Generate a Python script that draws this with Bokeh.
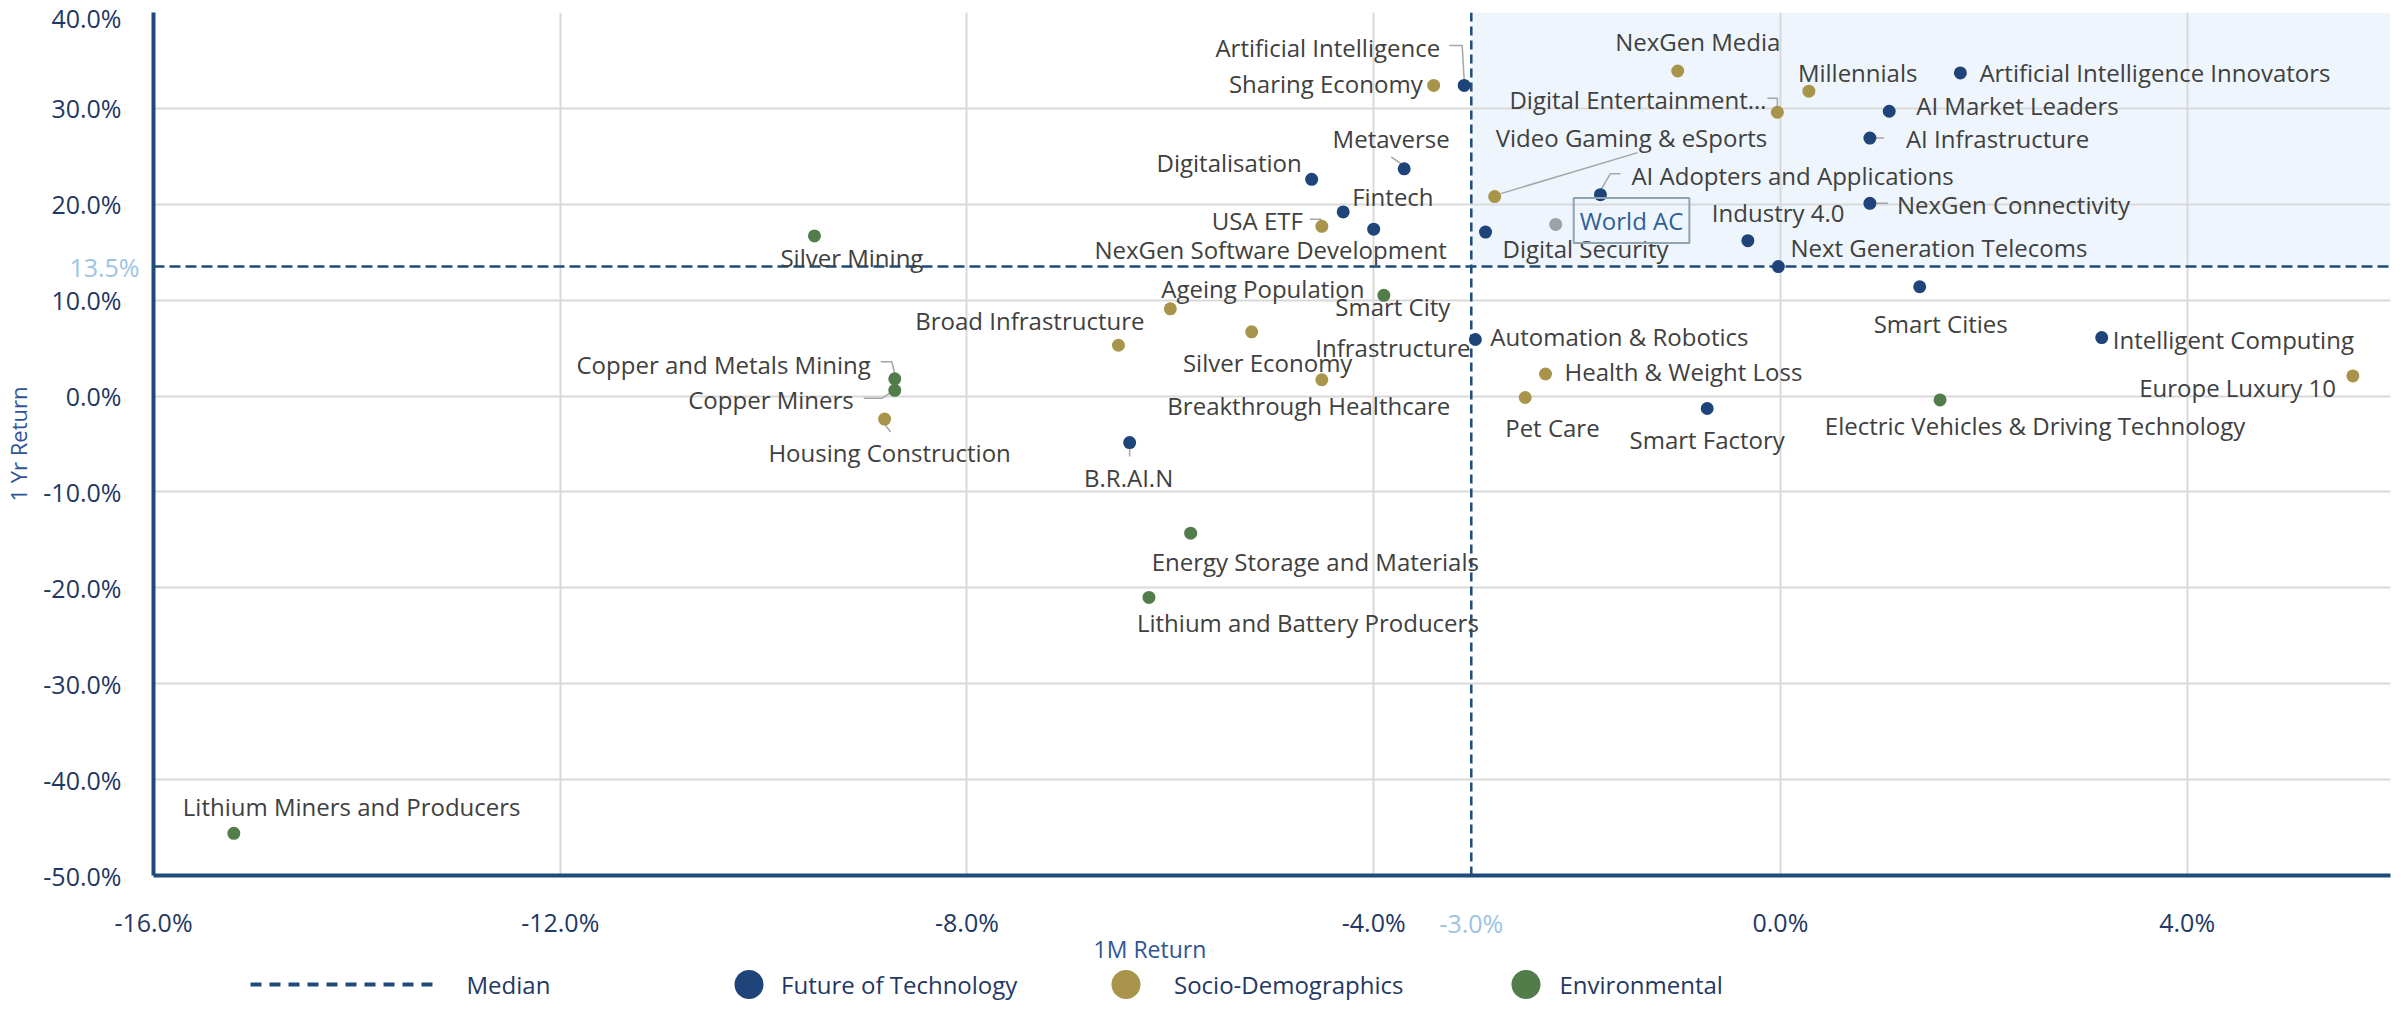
from bokeh.plotting import figure
from bokeh.models import (Range1d, FixedTicker, PrintfTickFormatter, BoxAnnotation,
                          Span, Label, ColumnDataSource, LinearAxis)
from bokeh.layouts import column
from bokeh.embed import file_html
from bokeh.resources import INLINE
from bokeh.core.properties import value

# ---------------- data ----------------
tech_names = ["Artificial Intelligence", "Artificial Intelligence Innovators", "AI Market Leaders",
              "AI Infrastructure", "Metaverse", "Digitalisation", "AI Adopters and Applications",
              "NexGen Connectivity", "Fintech", "NexGen Software Development", "Digital Security",
              "Industry 4.0", "Next Generation Telecoms", "Smart Cities", "Intelligent Computing",
              "Automation & Robotics", "Smart Factory", "B.R.AI.N"]
tech_1m = [-3.11, 1.77, 1.07, 0.88, -3.70, -4.61, -1.77, 0.88, -4.30, -4.00, -2.90,
           -0.32, -0.02, 1.37, 3.16, -3.00, -0.72, -6.40]
tech_1y = [32.4, 33.7, 29.7, 26.9, 23.7, 22.6, 21.0, 20.1, 19.2, 17.4, 17.1,
           16.2, 13.5, 11.4, 6.1, 5.9, -1.3, -4.85]

socio_names = ["Sharing Economy", "NexGen Media", "Millennials", "Digital Entertainment\u2026",
               "Video Gaming & eSports", "USA ETF", "Ageing Population", "Silver Economy",
               "Broad Infrastructure", "Breakthrough Healthcare", "Health & Weight Loss",
               "Pet Care", "Europe Luxury 10", "Housing Construction"]
socio_1m = [-3.41, -1.01, 0.28, -0.03, -2.81, -4.51, -6.00, -5.20, -6.51, -4.51, -2.31,
            -2.51, 5.63, -8.81]
socio_1y = [32.4, 33.9, 31.8, 29.6, 20.8, 17.7, 9.1, 6.7, 5.3, 1.7, 2.3, -0.15, 2.1, -2.4]

env_names = ["Silver Mining", "Smart City Infrastructure", "Copper and Metals Mining",
             "Copper Miners", "Electric Vehicles & Driving Technology",
             "Energy Storage and Materials", "Lithium and Battery Producers",
             "Lithium Miners and Producers"]
env_1m = [-9.50, -3.90, -8.71, -8.71, 1.57, -5.80, -6.21, -15.21]
env_1y = [16.7, 10.5, 1.8, 0.6, -0.4, -14.3, -21.0, -45.6]

bench_name = "World AC"
bench_1m = -2.21
bench_1y = 17.9

median_1m = -3.04
median_1y = 13.5

x_ticks = [-16, -12, -8, -4, 0, 4]
y_ticks = [-50, -40, -30, -20, -10, 0, 10, 20, 30, 40]

group_names = ["Future of Technology", "Socio-Demographics", "Environmental"]

# ---------------- layout / style ----------------
FONT = "Open Sans"
BLUE, GOLD, GREEN, GREY = "#1F4479", "#A8944A", "#527D4A", "#9AA3A8"
NAVY = "#1F3864"
LIGHT = "#9DC3E6"
FRAME_L, FRAME_R, FRAME_T = 146, 8, 12
FRAME_W, FRAME_H = 2237, 863
BOTTOM = 84
LEG_H = 34
X0, X1, Y0, Y1 = -16, 6, -50, 40
PXX = FRAME_W / (X1 - X0)
PXY = FRAME_H / (Y1 - Y0)
X_TITLE_AT = -6.2   # where the x axis title sits

# label placement: (align, dx px, dy px downward) relative to the point
label_layout = {
    "Artificial Intelligence": ("right", -24, -38),
    "Artificial Intelligence Innovators": ("left", 19, 0),
    "AI Market Leaders": ("left", 27, -6),
    "AI Infrastructure": ("left", 36, 0),
    "Metaverse": ("center", -13, -30),
    "Digitalisation": ("right", -10, -17),
    "AI Adopters and Applications": ("left", 31, -19),
    "NexGen Connectivity": ("left", 27, 1),
    "Fintech": ("left", 9, -15),
    "NexGen Software Development": ("right", 73, 20),
    "Digital Security": ("left", 17, 16),
    "Industry 4.0": ("left", -36, -28),
    "Next Generation Telecoms": ("left", 12, -19),
    "Smart Cities": ("center", 21, 37),
    "Intelligent Computing": ("left", 11, 2),
    "Automation & Robotics": ("left", 15, -3),
    "Smart Factory": ("center", 0, 31),
    "B.R.AI.N": ("center", -1, 35),
    "Sharing Economy": ("right", -11, -2),
    "NexGen Media": ("center", 20, -29),
    "Millennials": ("left", -11, -19),
    "Digital Entertainment\u2026": ("right", -11, -13),
    "Video Gaming & eSports": ("left", 1, -59),
    "USA ETF": ("right", -19, -6),
    "Ageing Population": ("left", -9, -20),
    "Silver Economy": ("center", 16, 31),
    "Broad Infrastructure": ("right", 26, -25),
    "Breakthrough Healthcare": ("center", -13, 26),
    "Health & Weight Loss": ("left", 19, -3),
    "Pet Care": ("left", -20, 30),
    "Europe Luxury 10": ("right", -17, 12),
    "Housing Construction": ("center", 5, 33),
    "Silver Mining": ("left", -34, 22),
    "Smart City Infrastructure": ("center", 9, 32),
    "Copper and Metals Mining": ("right", -24, -14),
    "Copper Miners": ("right", -41, 9),
    "Electric Vehicles & Driving Technology": ("center", 95, 26),
    "Energy Storage and Materials": ("left", -39, 28),
    "Lithium and Battery Producers": ("left", -12, 25),
    "Lithium Miners and Producers": ("left", -51, -27),
}
display_text = {"Smart City Infrastructure": "Smart City\nInfrastructure"}

# leader lines: pixel offsets relative to the point
leaders = {
    "Artificial Intelligence": [(-15, -40), (-2, -40), (0, -5)],
    "Metaverse": [(-13, -12), (-3, -5)],
    "AI Adopters and Applications": [(0, -4), (10, -21), (20, -21)],
    "AI Infrastructure": [(5, 0), (14, 0)],
    "NexGen Connectivity": [(5, 0), (18, 0)],
    "Digital Entertainment\u2026": [(-10, -14), (0, -14), (0, -5)],
    "Video Gaming & eSports": [(6, -3), (143, -44)],
    "USA ETF": [(-12, -7), (-1, -7), (0, -4)],
    "Copper and Metals Mining": [(-14, -17), (-3, -17), (0, -5)],
    "Copper Miners": [(-31, 8), (-13, 8), (-2, 1)],
    "Housing Construction": [(0, 5), (6, 13)],
    "B.R.AI.N": [(0, 5), (0, 14)],
}

p = figure(frame_width=FRAME_W, frame_height=FRAME_H,
           x_range=Range1d(X0, X1), y_range=Range1d(Y0, Y1),
           output_backend="svg", toolbar_location=None,
           min_border_left=FRAME_L, min_border_right=FRAME_R, min_border_top=FRAME_T,
           min_border_bottom=BOTTOM)
p.outline_line_color = None
p.background_fill_color = "white"
p.border_fill_color = "white"

# main axes
for ax, ticks in ((p.xaxis, x_ticks), (p.yaxis, y_ticks)):
    ax.ticker = FixedTicker(ticks=ticks)
    ax.formatter = PrintfTickFormatter(format="%.1f%%")
    ax.axis_line_color = "#1F4B7A"
    ax.axis_line_width = 4
    ax.major_tick_line_color = None
    ax.minor_tick_line_color = None
    ax.major_label_text_font = FONT
    ax.major_label_text_font_size = "25px"
    ax.major_label_text_color = NAVY
p.xaxis.major_label_standoff = 23
p.yaxis.major_label_standoff = 26
p.yaxis.axis_label = "1 Yr Return"
p.yaxis.axis_label_text_font = FONT
p.yaxis.axis_label_text_font_size = "22px"
p.yaxis.axis_label_text_font_style = "normal"
p.yaxis.axis_label_text_color = "#2F5597"
p.yaxis.axis_label_standoff = 7


def bare_axis(ticks, fmt, color, size, standoff):
    ax = LinearAxis(ticker=FixedTicker(ticks=ticks), formatter=PrintfTickFormatter(format=fmt))
    ax.axis_line_color = None
    ax.major_tick_line_color = None
    ax.minor_tick_line_color = None
    ax.major_label_text_font = FONT
    ax.major_label_text_font_size = size
    ax.major_label_text_color = color
    ax.major_label_standoff = standoff
    return ax


# median values marked on the axes (light blue)
p.add_layout(bare_axis([median_1m], "%.1f%%", LIGHT, "25px", -42), "below")
p.add_layout(bare_axis([median_1y], "%.1f%%", LIGHT, "25px", -145), "left")
# x axis title
p.add_layout(bare_axis([X_TITLE_AT], "1M Return", "#2F5597", "23px", -16), "below")

p.xgrid.ticker = FixedTicker(ticks=x_ticks)
p.ygrid.ticker = FixedTicker(ticks=y_ticks)
p.grid.grid_line_color = "#D9D9D9"
p.grid.grid_line_width = 2

# top-right quadrant shading
p.add_layout(BoxAnnotation(left=median_1m, bottom=median_1y, fill_color="#EEF5FC",
                           fill_alpha=1.0, line_alpha=0, level="image"))

# medians
p.add_layout(Span(location=median_1y, dimension="width", line_color="#1F4B7A",
                  line_dash="11 5", line_width=2.5, level="underlay"))
p.add_layout(Span(location=median_1m, dimension="height", line_color="#1F4B7A",
                  line_dash="9 5", line_width=2.5, level="underlay"))

# leader lines
all_pts = {}
for names, xs, ys in ((tech_names, tech_1m, tech_1y), (socio_names, socio_1m, socio_1y),
                      (env_names, env_1m, env_1y)):
    for n, x, y in zip(names, xs, ys):
        all_pts[n] = (x, y)

lx, ly = [], []
for n, offs in leaders.items():
    x, y = all_pts[n]
    lx.append([x + dx / PXX for dx, dy in offs])
    ly.append([y - dy / PXY for dx, dy in offs])
p.multi_line(lx, ly, line_color="#A6A6A6", line_width=1.5)

# points
for names, xs, ys, col in ((tech_names, tech_1m, tech_1y, BLUE),
                           (socio_names, socio_1m, socio_1y, GOLD),
                           (env_names, env_1m, env_1y, GREEN)):
    p.scatter(xs, ys, size=13, fill_color=col, line_color=None)
p.scatter([bench_1m], [bench_1y], size=13, fill_color=GREY, line_color=None)

# labels
cols = {"left": dict(x=[], y=[], t=[]), "right": dict(x=[], y=[], t=[]),
        "center": dict(x=[], y=[], t=[])}
for n, (x, y) in all_pts.items():
    al, dx, dy = label_layout[n]
    cols[al]["x"].append(x + dx / PXX)
    cols[al]["y"].append(y - dy / PXY)
    cols[al]["t"].append(display_text.get(n, n))
for al, d in cols.items():
    src = ColumnDataSource(dict(x=d["x"], y=d["y"], t=d["t"]))
    p.text(x="x", y="y", text="t", source=src, text_font=value(FONT),
           text_font_size="24px", text_color="#404040", text_align=al,
           text_baseline="middle", text_line_height=1.25)

# benchmark label in a box
p.add_layout(Label(x=bench_1m, y=bench_1y, x_offset=18, y_offset=4, text=bench_name,
                   text_font=FONT, text_font_size="24px", text_color="#2F5F9A",
                   text_align="left", text_baseline="middle",
                   border_line_color="#8FA3B3", border_line_width=2, padding=6))

# ---------------- legend row ----------------
LEG_X0 = FRAME_L
LEG_X1 = FRAME_L + FRAME_W
lg = figure(frame_width=FRAME_W, frame_height=LEG_H,
            x_range=Range1d(LEG_X0, LEG_X1), y_range=Range1d(0, LEG_H),
            output_backend="svg", toolbar_location=None,
            min_border_left=FRAME_L, min_border_right=FRAME_R,
            min_border_top=0, min_border_bottom=0,
            x_axis_location=None, y_axis_location=None)
lg.outline_line_color = None
lg.grid.visible = False
lg.background_fill_color = "white"
lg.border_fill_color = "white"
LY = LEG_H / 2
lg.line([243, 432], [LY, LY], line_color="#1F4B7A", line_dash="11 8", line_width=4)
lg.scatter([741.5, 1118.5, 1518.5], [LY, LY, LY], size=29,
           fill_color=[BLUE, GOLD, GREEN], line_color=None)
lg.text(x=[459, 773.6, 1166.5, 1552], y=[LY] * 4,
        text=["Median"] + group_names, text_font=value(FONT), text_font_size="24px",
        text_color=NAVY, text_align="left", text_baseline="middle")

layout = column(p, lg, spacing=0)
open("out.html", "w").write(file_html(layout, INLINE))
